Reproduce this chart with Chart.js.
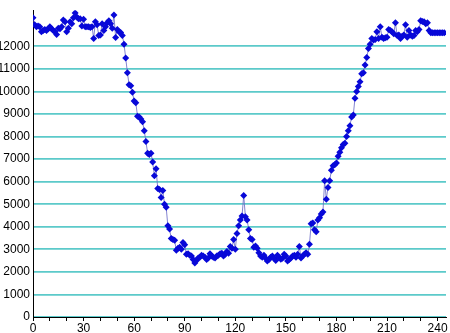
<!DOCTYPE html>
<html>
<head>
<meta charset="utf-8">
<script src="https://cdn.jsdelivr.net/npm/chart.js@4/dist/chart.umd.min.js"></script>
<style>
  html, body { margin: 0; padding: 0; background: #fff; }
  #wrap { width: 450px; height: 333px; }
</style>
</head>
<body>
<div id="wrap"><canvas id="scatterChart" width="450" height="333"></canvas></div>
<script>
// x positions (one reading per step)
const xValues = [];
for (let i = 0; i <= 244; i++) xValues.push(i);

// values
const yValues = [
    13260, 12960, 12870, 12900, 12870, 12650, 12700, 12740, 12700, 12780,
    12870, 12780, 12700, 12650, 12520, 12800, 12780, 12870, 13170, 13090,
    12650, 12800, 13090, 13000, 13260, 13480, 13300, 13220, 13220, 12900,
    13200, 12870, 12870, 12870, 12830, 12870, 12350, 13090, 12960, 12480,
    12500, 13000, 12700, 12870, 13040, 13130, 13000, 12800, 13390, 12390,
    12740, 12650, 12610, 12480, 12090, 11480, 10830, 10300, 10250, 9960,
    9570, 9500, 8900, 8870, 8780, 8650, 8260, 7780, 7260, 7200,
    7260, 6870, 6260, 6570, 5700, 5650, 5300, 5610, 5000, 4870,
    4040, 3900, 3480, 3430, 3400, 2960, 3050, 3090, 3000, 3300,
    3200, 2780, 2800, 2740, 2700, 2550, 2390, 2500, 2610, 2650,
    2740, 2700, 2650, 2550, 2610, 2800, 2700, 2650, 2610, 2700,
    2740, 2800, 2830, 2700, 2780, 2900, 2830, 3130, 3050, 3430,
    3000, 3700, 4040, 4300, 4480, 5390, 4440, 4300, 3870, 3480,
    3430, 3090, 3150, 3050, 2850, 2700, 2650, 2740, 2600, 2480,
    2550, 2650, 2700, 2600, 2500, 2740, 2650, 2560, 2600, 2780,
    2700, 2480, 2550, 2610, 2700, 2740, 2650, 2780, 3130, 2610,
    2700, 2780, 2850, 2780, 3220, 4130, 4170, 3870, 3780, 4300,
    4400, 4570, 4650, 6040, 5220, 5740, 6040, 6500, 6700, 6750,
    6830, 7130, 7300, 7500, 7650, 7700, 8000, 8260, 8480, 8870,
    8950, 9700, 10000, 10220, 10430, 10780, 10830, 11170, 11500, 11900,
    12090, 12350, 12280, 12300, 12650, 12350, 12870, 12400, 12350, 12380,
    12400, 12740, 12700, 12650, 12560, 13040, 12480, 12500, 12350, 12450,
    12500, 12960, 12400, 12700, 12500, 12440, 12480, 12700, 12650, 12740,
    13130, 13100, 13090, 13000, 13040, 12700, 12600, 12600, 12600, 12600,
    12600, 12600, 12600, 12600, 12600
];

// axis ticks
const yTicks = [0, 1000, 2000, 3000, 4000, 5000, 6000, 7000, 8000, 9000, 10000, 11000, 12000];
const xTicks = [0, 10, 20, 30, 40, 50, 60, 70, 80, 90, 100, 110, 120, 130, 140, 150,
                160, 170, 180, 190, 200, 210, 220, 230, 240];
const xLabels = [0, 30, 60, 90, 120, 150, 180, 210, 240];

const points = xValues.map((x, i) => ({ x: x, y: yValues[i] }));

const tickFont = { family: "'Liberation Sans Narrow', 'Liberation Sans', Arial, sans-serif", size: 12 };

const ctx = document.getElementById('scatterChart').getContext('2d');
new Chart(ctx, {
    type: 'line',
    data: {
        datasets: [{
            data: points,
            borderColor: 'rgba(110, 110, 200, 0.85)',
            borderWidth: 1,
            pointStyle: 'rectRot',
            pointRadius: 3.5,
            pointBackgroundColor: '#0808d8',
            pointBorderColor: '#0808d8',
            pointBorderWidth: 0,
            tension: 0,
            fill: false
        }]
    },
    options: {
        responsive: false,
        animation: false,
        layout: { padding: { top: 4, right: 2, left: 0, bottom: 0 } },
        scales: {
            x: {
                type: 'linear',
                min: 0,
                max: 245,
                afterBuildTicks: axis => { axis.ticks = xTicks.map(v => ({ value: v })); },
                afterFit: axis => { axis.height = 16; },
                border: { color: '#000', width: 1 },
                grid: { drawOnChartArea: false, drawTicks: true, tickLength: 4, color: '#000' },
                ticks: {
                    autoSkip: false,
                    maxRotation: 0,
                    padding: 0,
                    color: '#000',
                    font: tickFont,
                    callback: v => (xLabels.includes(v) ? String(v) : '')
                }
            },
            y: {
                min: 0,
                max: 13600,
                afterBuildTicks: axis => { axis.ticks = yTicks.map(v => ({ value: v })); },
                afterFit: axis => { axis.width = 33; },
                border: { color: '#000', width: 1 },
                grid: { color: '#5ccaca', lineWidth: 1.8, drawTicks: false },
                ticks: {
                    autoSkip: false,
                    padding: 3,
                    color: '#000',
                    font: tickFont,
                    callback: v => String(v)
                }
            }
        },
        plugins: {
            legend: { display: false },
            tooltip: { enabled: false }
        }
    }
});
</script>
</body>
</html>
